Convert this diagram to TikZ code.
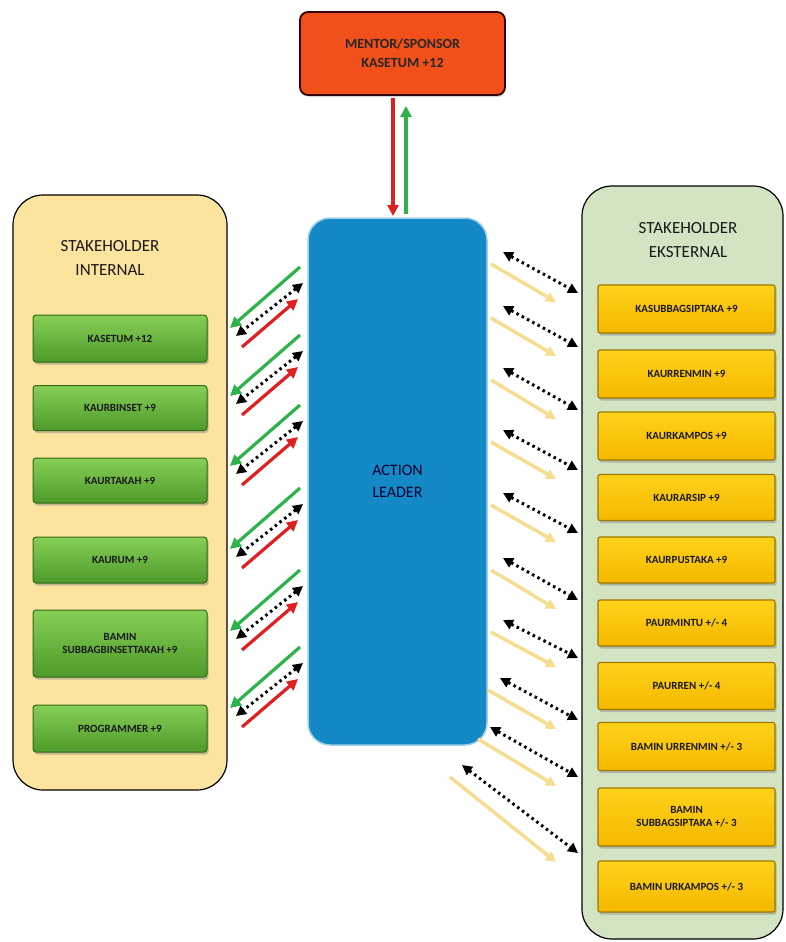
\documentclass[tikz,border=0pt]{standalone}
\usepackage{fontspec}
\setmainfont{Carlito}
\usetikzlibrary{arrows.meta,shadows}
\definecolor{panelL}{HTML}{FDE49E}
\definecolor{panelR}{HTML}{D3E4C3}
\definecolor{grnT}{HTML}{86CF57}
\definecolor{grnB}{HTML}{4E9A2A}
\definecolor{grnD}{HTML}{2F6A15}
\definecolor{yelT}{HTML}{FFD21A}
\definecolor{yelB}{HTML}{F5B800}
\definecolor{yelD}{HTML}{A07800}
\definecolor{leader}{HTML}{1589C6}
\definecolor{mentor}{HTML}{F2501A}
\definecolor{arrG}{HTML}{2DB34A}
\definecolor{arrR}{HTML}{E02020}
\definecolor{arrY}{HTML}{F6DD90}
\tikzset{
  panel/.style={draw=black,line width=1.2pt,rounded corners=30pt},
  gbox/.style={draw=grnD,line width=1pt,top color=grnT,bottom color=grnB,
    minimum width=174pt,rounded corners=3pt,align=center,
    font=\fontsize{11}{13}\selectfont\bfseries,text=black!90,
    drop shadow={shadow xshift=1.5pt,shadow yshift=-2.5pt,opacity=.45}},
  ybox/.style={draw=yelD,line width=1.2pt,top color=yelT,bottom color=yelB,
    minimum width=177pt,rounded corners=2pt,align=center,
    font=\fontsize{11}{13}\selectfont\bfseries,text=black!90,
    drop shadow={shadow xshift=1.5pt,shadow yshift=-2.5pt,opacity=.45}},
  ttl/.style={align=center,font=\fontsize{17}{24}\selectfont,text=black!90},
  dotarr/.style={{Triangle[width=10pt,length=10pt]}-{Triangle[width=10pt,length=10pt]},
    line width=3pt,dash pattern=on 2.5pt off 3.5pt,black},
  garr/.style={-{Triangle[width=11pt,length=11pt]},line width=3.2pt,arrG},
  rarr/.style={-{Triangle[width=11pt,length=11pt]},line width=3.2pt,arrR},
  yarr/.style={-{Triangle[width=10pt,length=10pt]},line width=3.5pt,arrY},
}
\begin{document}
\begin{tikzpicture}[x=1pt,y=-1pt]
\useasboundingbox (0,0) rectangle (785,942);
\fill[white] (0,0) rectangle (785,942);
% panels
\draw[panel,fill=panelL] (13,195) rectangle (227,790);
\draw[panel,fill=panelR] (582,186) rectangle (783,939);
\node[ttl] (tL) at (110,258) {STAKEHOLDER\\INTERNAL};
\node[ttl] (tR) at (688,240) {STAKEHOLDER\\EKSTERNAL};
% top mentor
\node[draw=black!80!red,line width=1.8pt,fill=mentor,rounded corners=8pt,
  minimum width=205pt,minimum height=83pt,align=center,
  font=\fontsize{14}{19}\selectfont\bfseries,text=black!85,
  drop shadow={shadow xshift=1pt,shadow yshift=-2pt,opacity=.3}]
  (mentor) at (402.5,53.5) {MENTOR/SPONSOR\\KASETUM +12};
% action leader
\node[draw=leader!40!white,line width=1.5pt,fill=leader,rounded corners=22pt,
  minimum width=179pt,minimum height=527pt,align=center,
  font=\fontsize{16}{22}\selectfont,text=black!80!blue]
  (leader) at (397.5,481.5) {ACTION\\LEADER};
% top arrows
\coordinate (rdS) at (393,98);
\coordinate (rdE) at (393,216);
\coordinate (guS) at (406,214);
\coordinate (guE) at (406,106);
\draw[rarr] (rdS) -- (rdE);
\draw[garr] (guS) -- (guE);
% left boxes
\node[gbox,minimum height=47pt] (g1) at (120,338.5) {KASETUM +12};
\node[gbox,minimum height=45pt] (g2) at (120,408) {KAURBINSET +9};
\node[gbox,minimum height=45pt] (g3) at (120,480.5) {KAURTAKAH +9};
\node[gbox,minimum height=46pt] (g4) at (120,560) {KAURUM +9};
\node[gbox,minimum height=67pt] (g5) at (120,643.5) {BAMIN\\SUBBAGBINSETTAKAH +9};
\node[gbox,minimum height=47pt] (g6) at (120,728.5) {PROGRAMMER +9};
% right boxes
\node[ybox,minimum height=48pt] (y1) at (686.5,309) {KASUBBAGSIPTAKA +9};
\node[ybox,minimum height=48pt] (y2) at (686.5,374) {KAURRENMIN +9};
\node[ybox,minimum height=48pt] (y3) at (686.5,436) {KAURKAMPOS +9};
\node[ybox,minimum height=46pt] (y4) at (686.5,497.5) {KAURARSIP +9};
\node[ybox,minimum height=46pt] (y5) at (686.5,560) {KAURPUSTAKA +9};
\node[ybox,minimum height=46pt] (y6) at (686.5,623) {PAURMINTU +/- 4};
\node[ybox,minimum height=47pt] (y7) at (686.5,686) {PAURREN +/- 4};
\node[ybox,minimum height=48pt] (y8) at (686.5,746.5) {BAMIN URRENMIN +/- 3};
\node[ybox,minimum height=58pt] (y9) at (686.5,817) {BAMIN\\SUBBAGSIPTAKA +/- 3};
\node[ybox,minimum height=51pt] (y10) at (686.5,886.5) {BAMIN URKAMPOS +/- 3};
% left arrow groups
\foreach \i/\y in {1/267,2/335,3/405,4/488,5/570,6/647}{
  \coordinate (lgS\i) at (300,\y);
  \coordinate (lgE\i) at (230,\y+61);
  \coordinate (ldA\i) at (303,\y+16);
  \coordinate (ldB\i) at (236,\y+69);
  \coordinate (lrS\i) at (242,\y+80);
  \coordinate (lrE\i) at (298,\y+32);
  \draw[garr] (lgS\i) -- (lgE\i);
  \draw[rarr] (lrS\i) -- (lrE\i);
  \draw[dotarr] (ldA\i) -- (ldB\i);
}
% right arrow groups
\foreach \i/\xa/\ya/\yb in {1/503/252/293,2/503/306/347,3/503/368/410,4/503/430/470,
  5/503/493/533,6/503/558/600,7/503/620/658,8/500/678/720,9/490/727/777,10/462/765/853}{
  \coordinate (rdA\i) at (\xa,\ya);
  \coordinate (rdB\i) at (578,\yb);
  \coordinate (ryS\i) at (\xa-12,\ya+12);
  \coordinate (ryE\i) at (556,\yb+9);
  \draw[yarr] (ryS\i) -- (ryE\i);
  \draw[dotarr] (rdA\i) -- (rdB\i);
}
\end{tikzpicture}
\end{document}
